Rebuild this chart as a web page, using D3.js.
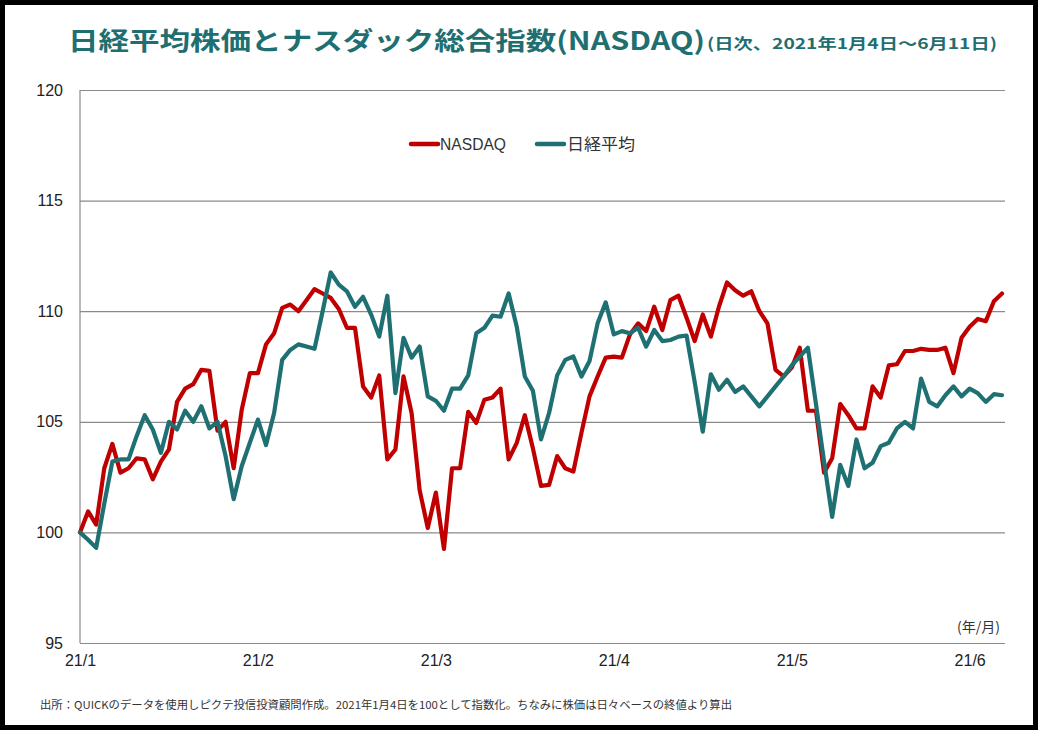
<!DOCTYPE html>
<html><head><meta charset="utf-8">
<script src="https://cdn.jsdelivr.net/npm/d3@7"></script>
<style>
html,body{margin:0;padding:0;background:#fff;}
svg{display:block;}
</style>
</head><body>
<svg id="chart" width="1040" height="732"></svg>
<script>
// ---- data ----
const titleMain = "日経平均株価とナスダック総合指数(NASDAQ)";
const titleSub = "(日次、2021年1月4日～6月11日)";
const footnote = "出所：QUICKのデータを使用しピクテ投信投資顧問作成。2021年1月4日を100として指数化。ちなみに株価は日々ベースの終値より算出";
const unitLabel = "(年/月)";
const seriesNames = ["NASDAQ", "日経平均"];
const xTickLabels = ["21/1", "21/2", "21/3", "21/4", "21/5", "21/6"];
const xTickIndex = [0, 22, 44, 66, 88, 110];
const yTicks = [95, 100, 105, 110, 115, 120];

const nasdaq = [
 100.0,100.95,100.35,102.9,104.0,102.7,102.9,103.35,103.3,102.4,
 103.2,103.75,105.9,106.5,106.7,107.35,107.3,104.6,105.0,102.9,
 105.55,107.2,107.2,108.5,109.0,110.15,110.3,110.0,110.5,111.0,
 110.8,110.6,110.1,109.25,109.25,106.6,106.1,107.1,103.3,103.75,
 107.05,105.4,101.9,100.2,101.8,99.25,102.9,102.9,105.45,104.95,
 106.0,106.1,106.5,103.3,104.05,105.3,103.8,102.1,102.15,103.45,
 102.9,102.75,104.5,106.15,107.05,107.9,107.95,107.9,108.95,109.45,
 109.1,110.2,109.15,110.5,110.7,109.7,108.65,109.85,108.85,110.2,
 111.3,110.95,110.7,110.9,110.0,109.45,107.35,107.05,107.45,108.35,
 105.5,105.5,102.7,103.35,105.8,105.3,104.7,104.7,106.6,106.1,
 107.55,107.6,108.2,108.2,108.3,108.25,108.25,108.35,107.2,108.8,
 109.3,109.65,109.55,110.45,110.8
];
const nikkei = [
 100.0,99.67,99.3,101.3,103.2,103.3,103.3,104.35,105.3,104.65,
 103.6,105.0,104.65,105.5,105.0,105.7,104.7,105.0,103.45,101.5,
 103.0,104.05,105.1,103.95,105.4,107.8,108.25,108.5,108.4,108.3,
 110.0,111.75,111.2,110.9,110.2,110.65,109.85,108.85,110.7,106.3,
 108.8,107.9,108.4,106.15,105.95,105.5,106.5,106.5,107.1,109.0,
 109.25,109.8,109.75,110.8,109.3,107.05,106.4,104.2,105.4,107.1,
 107.8,107.95,107.05,107.75,109.45,110.4,108.95,109.1,109.0,109.25,
 108.4,109.15,108.65,108.7,108.85,108.9,106.8,104.55,107.15,106.45,
 106.9,106.35,106.6,106.15,105.7,106.15,106.6,107.05,107.55,107.95,
 108.35,105.8,103.2,100.7,103.05,102.1,104.2,102.9,103.15,103.9,
 104.05,104.7,105.0,104.7,106.95,105.9,105.7,106.2,106.6,106.15,
 106.5,106.3,105.9,106.25,106.2
];
const colors = ["#c00000", "#1f7073"];

// ---- drawing ----
const svg = d3.select("#chart");
const W = 1040, H = 732;
const plot = {left: 80, right: 1002, top: 90, bottom: 643};

svg.append("rect").attr("x",0).attr("y",0).attr("width",W).attr("height",H).attr("fill","#fff");

const x = d3.scaleLinear().domain([0, nasdaq.length - 1]).range([plot.left, plot.right]);
const y = d3.scaleLinear().domain([95, 120]).range([plot.bottom, plot.top]);

// gridlines
const yAxis = d3.axisLeft(y).tickValues(yTicks).tickSize(-(1005 - plot.left)).tickPadding(17).tickFormat(d3.format("d"));
const gy = svg.append("g").attr("transform", `translate(${plot.left},0)`).call(yAxis);
gy.select(".domain").remove();
gy.selectAll(".tick line").attr("stroke", "#8a8a8a").attr("stroke-width", 1.2);
gy.selectAll(".tick text").attr("fill", "#222").attr("font-size", 16)
  .attr("font-family", "'Liberation Sans', Arial, sans-serif");

// y axis line
svg.append("line").attr("x1", plot.left).attr("x2", plot.left).attr("y1", plot.top).attr("y2", plot.bottom)
  .attr("stroke", "#8a8a8a").attr("stroke-width", 1.2);

// x axis labels
const xAxis = d3.axisBottom(x).tickValues(xTickIndex).tickSize(0).tickPadding(12)
  .tickFormat((d, i) => xTickLabels[i]);
const gx = svg.append("g").attr("transform", `translate(0,${plot.bottom})`).call(xAxis);
gx.select(".domain").remove();
gx.selectAll(".tick text").attr("fill", "#222").attr("font-size", 16)
  .attr("font-family", "'Liberation Sans', Arial, sans-serif");

// lines
const line = d3.line().x((d, i) => x(i)).y(d => y(d)).curve(d3.curveLinear);
[nasdaq, nikkei].forEach((s, k) => {
  svg.append("path").datum(s).attr("d", line).attr("fill", "none")
    .attr("stroke", colors[k]).attr("stroke-width", 4.2)
    .attr("stroke-linejoin", "round").attr("stroke-linecap", "round");
});

// legend
const leg = [{x: 411, tx: 440, tl: 66}, {x: 537, tx: 567, tl: 68}];
seriesNames.forEach((n, k) => {
  svg.append("line").attr("x1", leg[k].x).attr("x2", leg[k].x + 27).attr("y1", 144).attr("y2", 144)
    .attr("stroke", colors[k]).attr("stroke-width", 4.5).attr("stroke-linecap", "round");
  svg.append("text").attr("x", leg[k].tx).attr("y", 150).text(n)
    .attr("font-size", 16).attr("fill", "#333")
    .attr("font-family", "'Liberation Sans Narrow', 'Liberation Sans', 'Noto Sans CJK JP', sans-serif")
    .attr("textLength", leg[k].tl).attr("lengthAdjust", "spacingAndGlyphs");
});

// unit label
svg.append("text").attr("x", 1000).attr("y", 632).attr("text-anchor", "end").text(unitLabel)
  .attr("font-size", 14).attr("fill", "#333")
  .attr("font-family", "'Noto Sans CJK JP', sans-serif");

// title
svg.append("text").attr("x", 68).attr("y", 50).text(titleMain)
  .attr("font-size", 25).attr("font-weight", "bold").attr("fill", "#1f6e70")
  .attr("font-family", "'Noto Sans CJK JP', sans-serif")
  .attr("textLength", 637).attr("lengthAdjust", "spacingAndGlyphs");
svg.append("text").attr("x", 707).attr("y", 49).text(titleSub)
  .attr("font-size", 15).attr("font-weight", "bold").attr("fill", "#1f6e70")
  .attr("font-family", "'Noto Sans CJK JP', sans-serif")
  .attr("textLength", 290).attr("lengthAdjust", "spacingAndGlyphs");

// footnote
svg.append("text").attr("x", 40).attr("y", 709).text(footnote)
  .attr("font-size", 11).attr("fill", "#333")
  .attr("font-family", "'Noto Sans CJK JP', sans-serif")
  .attr("textLength", 692).attr("lengthAdjust", "spacingAndGlyphs");

// frame
svg.append("rect").attr("x", 2.5).attr("y", 2.5).attr("width", W - 7).attr("height", H - 7)
  .attr("fill", "none").attr("stroke", "#000").attr("stroke-width", 5);
</script>
</body></html>
